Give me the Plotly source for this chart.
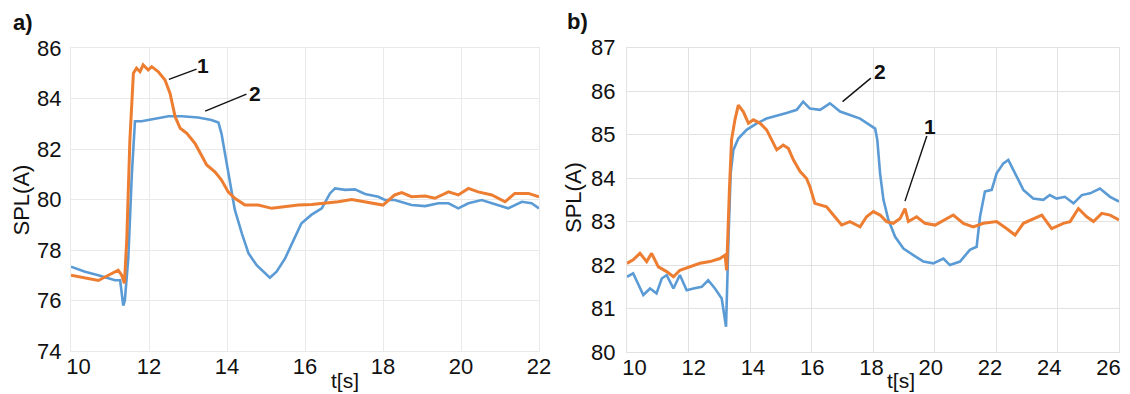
import plotly.graph_objects as go

# ---------------- panel a) ----------------
a_t_2 = [10.0, 10.36, 10.7, 11.13, 11.26, 11.34, 11.38, 11.47, 11.56, 11.64, 11.81, 12.15, 12.5, 12.84,
         13.26, 13.6, 13.78, 13.86, 13.95, 14.03, 14.12, 14.2, 14.38, 14.55, 14.76, 14.97, 15.1, 15.27,
         15.49, 15.74, 15.91, 16.17, 16.43, 16.64, 16.77, 17.03, 17.28, 17.54, 17.88, 18.05, 18.3, 18.73,
         19.08, 19.42, 19.68, 19.93, 20.19, 20.53, 20.87, 21.21, 21.56, 21.81, 22.0]
a_spl_2 = [77.34, 77.14, 77.0, 76.8, 76.8, 75.8, 76.0, 77.7, 81.0, 83.1, 83.1, 83.2, 83.3, 83.3,
           83.25, 83.15, 83.05, 82.6, 81.8, 81.0, 80.2, 79.6, 78.66, 77.87, 77.4, 77.08, 76.9, 77.14,
           77.67, 78.5, 79.06, 79.4, 79.65, 80.24, 80.44, 80.38, 80.4, 80.22, 80.11, 79.98, 79.98, 79.78,
           79.74, 79.85, 79.85, 79.65, 79.85, 79.98, 79.82, 79.65, 79.91, 79.85, 79.65]

a_t_1 = [10.0, 10.36, 10.7, 10.96, 11.21, 11.3, 11.37, 11.43, 11.51, 11.6, 11.68, 11.77, 11.85, 11.98,
         12.07, 12.24, 12.41, 12.54, 12.67, 12.8, 12.97, 13.18, 13.35, 13.48, 13.69, 13.86, 14.03, 14.2,
         14.46, 14.8, 15.15, 15.49, 15.83, 16.17, 16.51, 16.85, 17.2, 17.54, 17.79, 18.0, 18.3, 18.48,
         18.73, 19.08, 19.33, 19.68, 19.93, 20.19, 20.44, 20.79, 21.13, 21.38, 21.73, 22.0]
a_spl_1 = [77.0, 76.88, 76.79, 77.0, 77.2, 77.0, 76.68, 78.4, 82.36, 85.0, 85.2, 85.06, 85.33, 85.13,
           85.26, 85.06, 84.73, 84.2, 83.28, 82.82, 82.62, 82.22, 81.76, 81.37, 81.1, 80.77, 80.3, 80.05,
           79.78, 79.78, 79.65, 79.72, 79.78, 79.8, 79.85, 79.91, 80.0, 79.91, 79.85, 79.78, 80.18, 80.27,
           80.11, 80.14, 80.05, 80.3, 80.18, 80.44, 80.3, 80.18, 79.91, 80.24, 80.24, 80.11]

# ---------------- panel b) ----------------
b_t_2 = [10.0, 10.2, 10.53, 10.75, 10.96, 11.13, 11.29, 11.51, 11.72, 11.94, 12.16, 12.43, 12.64, 12.86,
         13.08, 13.22, 13.3, 13.37, 13.46, 13.62, 13.89, 14.22, 14.54, 14.87, 15.19, 15.52, 15.73, 15.95,
         16.28, 16.6, 16.93, 17.25, 17.58, 17.9, 18.07, 18.14, 18.23, 18.34, 18.5, 18.72, 18.99, 19.31,
         19.64, 19.96, 20.29, 20.5, 20.83, 21.15, 21.37, 21.48, 21.64, 21.86, 22.02, 22.24, 22.4, 22.62,
         22.89, 23.21, 23.54, 23.75, 23.97, 24.24, 24.52, 24.79, 25.06, 25.38, 25.71, 26.0]
b_spl_2 = [81.73, 81.81, 81.31, 81.46, 81.35, 81.69, 81.77, 81.46, 81.77, 81.42, 81.46, 81.5, 81.65, 81.46,
           81.23, 80.58, 82.58, 84.1, 84.65, 84.91, 85.11, 85.26, 85.37, 85.43, 85.5, 85.57, 85.76, 85.6,
           85.57, 85.72, 85.53, 85.45, 85.37, 85.22, 85.14, 84.88, 84.11, 83.5, 83.04, 82.65, 82.38, 82.23,
           82.08, 82.04, 82.15, 82.0, 82.08, 82.35, 82.42, 83.11, 83.69, 83.73, 84.11, 84.34, 84.42, 84.11,
           83.73, 83.53, 83.5, 83.61, 83.53, 83.57, 83.42, 83.61, 83.65, 83.76, 83.57, 83.46]

b_t_1 = [10.0, 10.2, 10.42, 10.64, 10.8, 11.02, 11.29, 11.51, 11.72, 12.05, 12.37, 12.7, 13.02, 13.19,
         13.24, 13.33, 13.4, 13.51, 13.62, 13.78, 13.95, 14.11, 14.33, 14.54, 14.7, 14.87, 15.08, 15.25,
         15.41, 15.63, 15.84, 15.95, 16.11, 16.28, 16.49, 16.71, 16.98, 17.25, 17.58, 17.79, 18.01, 18.23,
         18.44, 18.66, 18.88, 19.04, 19.15, 19.42, 19.69, 20.02, 20.34, 20.61, 20.94, 21.26, 21.59, 22.02,
         22.34, 22.62, 22.89, 23.21, 23.49, 23.81, 24.19, 24.41, 24.68, 24.95, 25.17, 25.44, 25.71, 26.0]
b_spl_1 = [82.04, 82.12, 82.27, 82.08, 82.27, 81.96, 81.85, 81.73, 81.88, 81.96, 82.04, 82.08, 82.15, 82.23,
           81.88, 83.73, 84.88, 85.34, 85.68, 85.53, 85.26, 85.34, 85.26, 85.11, 84.88, 84.65, 84.76, 84.68,
           84.42, 84.15, 83.99, 83.8, 83.42, 83.38, 83.34, 83.15, 82.92, 83.0, 82.88, 83.11, 83.23, 83.15,
           83.0, 82.96, 83.07, 83.3, 83.0, 83.11, 82.96, 82.92, 83.04, 83.15, 82.96, 82.88, 82.96, 83.0,
           82.84, 82.69, 82.96, 83.07, 83.15, 82.84, 82.96, 83.0, 83.3, 83.11, 83.0, 83.19, 83.15, 83.04]

# tick labels
a_xticks = [10, 12, 14, 16, 18, 20, 22]
a_yticks = [74, 76, 78, 80, 82, 84, 86]
b_xticks = [10, 12, 14, 16, 18, 20, 22, 24, 26]
b_yticks = [80, 81, 82, 83, 84, 85, 86, 87]

BLUE = "#5B9BD5"
ORANGE = "#ED7D31"
FONT = "Liberation Sans, Arial, sans-serif"
W, H = 1130, 394

fig = go.Figure()
fig.add_trace(go.Scatter(x=a_t_2, y=a_spl_2, mode="lines", line=dict(color=BLUE, width=2.6),
                         xaxis="x", yaxis="y"))
fig.add_trace(go.Scatter(x=a_t_1, y=a_spl_1, mode="lines", line=dict(color=ORANGE, width=3.0),
                         xaxis="x", yaxis="y"))
fig.add_trace(go.Scatter(x=b_t_2, y=b_spl_2, mode="lines", line=dict(color=BLUE, width=2.6),
                         xaxis="x2", yaxis="y2"))
fig.add_trace(go.Scatter(x=b_t_1, y=b_spl_1, mode="lines", line=dict(color=ORANGE, width=3.0),
                         xaxis="x2", yaxis="y2"))
# empty traces so the label-only time axes get drawn
fig.add_trace(go.Scatter(x=[], y=[], mode="lines", xaxis="x3", yaxis="y", hoverinfo="skip"))
fig.add_trace(go.Scatter(x=[], y=[], mode="lines", xaxis="x4", yaxis="y2", hoverinfo="skip"))

tickfont = dict(family=FONT, size=22, color="#111111")


def grid_axis(**kw):
    base = dict(showgrid=True, zeroline=False, showline=True, mirror=True,
                ticks="", fixedrange=True, automargin=False)
    base.update(kw)
    return base


def label_axis(**kw):
    base = dict(showgrid=False, zeroline=False, showline=False, ticks="", tickfont=tickfont,
                fixedrange=True, side="bottom", automargin=False)
    base.update(kw)
    return base


a_dom_x = [71 / W, 539 / W]
a_dom_y = [(H - 351) / H, (H - 48) / H]
b_dom_x = [627 / W, 1119 / W]
b_dom_y = [(H - 352) / H, (H - 47.7) / H]

fig.update_layout(
    template="none",
    width=W, height=H,
    margin=dict(l=0, r=0, t=0, b=0, pad=0),
    paper_bgcolor="white", plot_bgcolor="white",
    showlegend=False,
    xaxis=grid_axis(domain=a_dom_x, range=[10, 22], tickvals=a_xticks, showticklabels=False,
                    gridcolor="#e9e9e9", linecolor="#e9e9e9", anchor="y"),
    yaxis=grid_axis(domain=a_dom_y, range=[74, 86], tickvals=a_yticks, tickfont=tickfont,
                    gridcolor="#e9e9e9", linecolor="#e9e9e9", anchor="x", ticklabelstandoff=4),
    # tick labels of the time axis (first label nudged off the corner)
    xaxis3=label_axis(overlaying="x", anchor="y", range=[10, 22],
                      tickvals=[10.19] + a_xticks[1:], ticktext=[str(v) for v in a_xticks]),
    xaxis2=grid_axis(domain=b_dom_x, range=[10, 26], tickvals=b_xticks, showticklabels=False,
                     gridcolor="#e2e2e2", linecolor="#e2e2e2", anchor="y2"),
    yaxis2=grid_axis(domain=b_dom_y, range=[80, 87], tickvals=b_yticks, tickfont=tickfont,
                     gridcolor="#e2e2e2", linecolor="#e2e2e2", anchor="x2", ticklabelstandoff=6),
    xaxis4=label_axis(overlaying="x2", anchor="y2", range=[9.747, 26.354],
                      tickvals=b_xticks, ticktext=[str(v) for v in b_xticks]),
)

txt = dict(family=FONT, size=22, color="#111111")
bold = dict(family=FONT, size=22, color="#111111", weight="bold")
ann = []
# panel letters
ann.append(dict(text="a)", x=22.5 / W, y=1 - 22.5 / H, xref="paper", yref="paper",
                showarrow=False, font=bold, xanchor="center", yanchor="middle"))
ann.append(dict(text="b)", x=577 / W, y=1 - 21.7 / H, xref="paper", yref="paper",
                showarrow=False, font=bold, xanchor="center", yanchor="middle"))
# axis titles
for xc, yc in [(20.5, 200), (574, 198)]:
    ann.append(dict(text="SPL(A)", x=xc / W, y=1 - yc / H, xref="paper", yref="paper",
                    textangle=-90, showarrow=False, font=txt, xanchor="center", yanchor="middle"))
for xc in [345, 901]:
    ann.append(dict(text="t[s]", x=xc / W, y=1 - 380 / H, xref="paper", yref="paper",
                    showarrow=False, font=dict(family=FONT, size=21, color="#111111"),
                    xanchor="center", yanchor="middle", borderpad=0))

# curve labels with leader lines (data coordinates)
labels = [
    ("1", "x", "y", 13.38, 85.29, (12.51, 84.76), (13.22, 85.16)),
    ("2", "x", "y", 14.72, 84.2, (13.44, 83.5), (14.5, 84.17)),
    ("2", "x2", "y2", 18.24, 86.45, (17.01, 85.76), (17.93, 86.3)),
    ("1", "x2", "y2", 19.85, 85.19, (19.04, 83.47), (19.75, 84.97)),
]
shapes = []
for text, xr, yr, tx, ty, p0, p1 in labels:
    ann.append(dict(text=text, x=tx, y=ty, xref=xr, yref=yr, showarrow=False,
                    font=dict(family=FONT, size=21, color="#111111", weight="bold"),
                    xanchor="center", yanchor="middle"))
    shapes.append(dict(type="line", xref=xr, yref=yr, x0=p0[0], y0=p0[1], x1=p1[0], y1=p1[1],
                       line=dict(color="#111111", width=1.4)))

fig.update_layout(annotations=ann, shapes=shapes)
fig.write_html("out.html")
